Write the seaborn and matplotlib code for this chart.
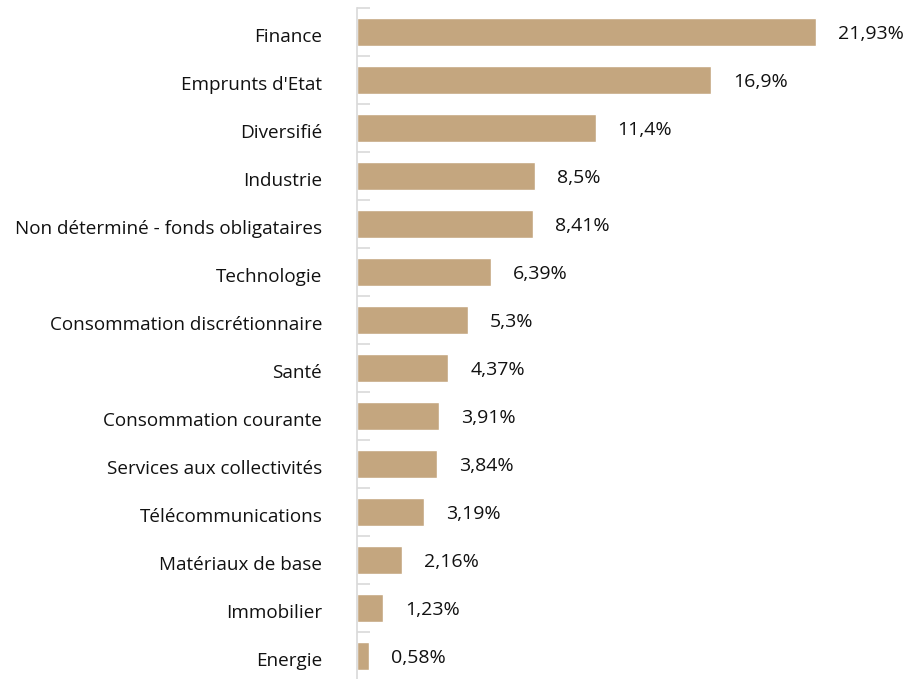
import matplotlib
matplotlib.use("Agg")
import matplotlib.pyplot as plt
import matplotlib.transforms as mtransforms
import seaborn as sns
import pandas as pd
import numpy as np

categories = ["Finance", "Emprunts d'Etat", "Diversifié", "Industrie",
              "Non déterminé - fonds obligataires", "Technologie",
              "Consommation discrétionnaire", "Santé", "Consommation courante",
              "Services aux collectivités", "Télécommunications",
              "Matériaux de base", "Immobilier", "Energie"]
values = [21.93, 16.9, 11.4, 8.5, 8.41, 6.39, 5.3, 4.37, 3.91, 3.84, 3.19, 2.16, 1.23, 0.58]
value_labels = ["21,93%", "16,9%", "11,4%", "8,5%", "8,41%", "6,39%", "5,3%",
                "4,37%", "3,91%", "3,84%", "3,19%", "2,16%", "1,23%", "0,58%"]

sns.set_style("white")
plt.rcParams['font.family'] = ['Open Sans', 'DejaVu Sans']

df = pd.DataFrame({"cat": categories, "val": values})
fig = plt.figure(figsize=(9.12, 6.79), dpi=100)
ax = fig.add_axes([357/912, -1/679, 1 - 357/912, 672/679])
sns.barplot(data=df, y="cat", x="val", color="#C4A67F", width=0.57,
            saturation=1, ax=ax, orient="h")
ax.set_xlim(0, (912 - 357) / 20.93)
ax.set_ylim(13.5, -0.5)
ax.set_xlabel("")
ax.set_ylabel("")
ax.set_xticks([])
for s in ["top", "right", "bottom"]:
    ax.spines[s].set_visible(False)
ax.spines["left"].set_color("#d9d9d9")
ax.spines["left"].set_linewidth(1.2)
ax.tick_params(axis="y", which="major", left=False, length=0, pad=25, labelsize=13.6, labelcolor="#111111")
ax.set_yticks(np.arange(-0.5, 13.0, 1.0), minor=True)
ax.tick_params(axis="y", which="minor", left=True, direction="in", length=9, color="#d9d9d9", width=1.2)
shift = mtransforms.ScaledTranslation(0, -2/72, fig.dpi_scale_trans)
for lbl in ax.get_yticklabels():
    lbl.set_transform(lbl.get_transform() + shift)
for i, (v, lab) in enumerate(zip(values, value_labels)):
    ax.text(v + 22/20.93, i + 0.05, lab, va="center", ha="left", fontsize=14, color="#111111")
fig.savefig("out.png", dpi=100)
